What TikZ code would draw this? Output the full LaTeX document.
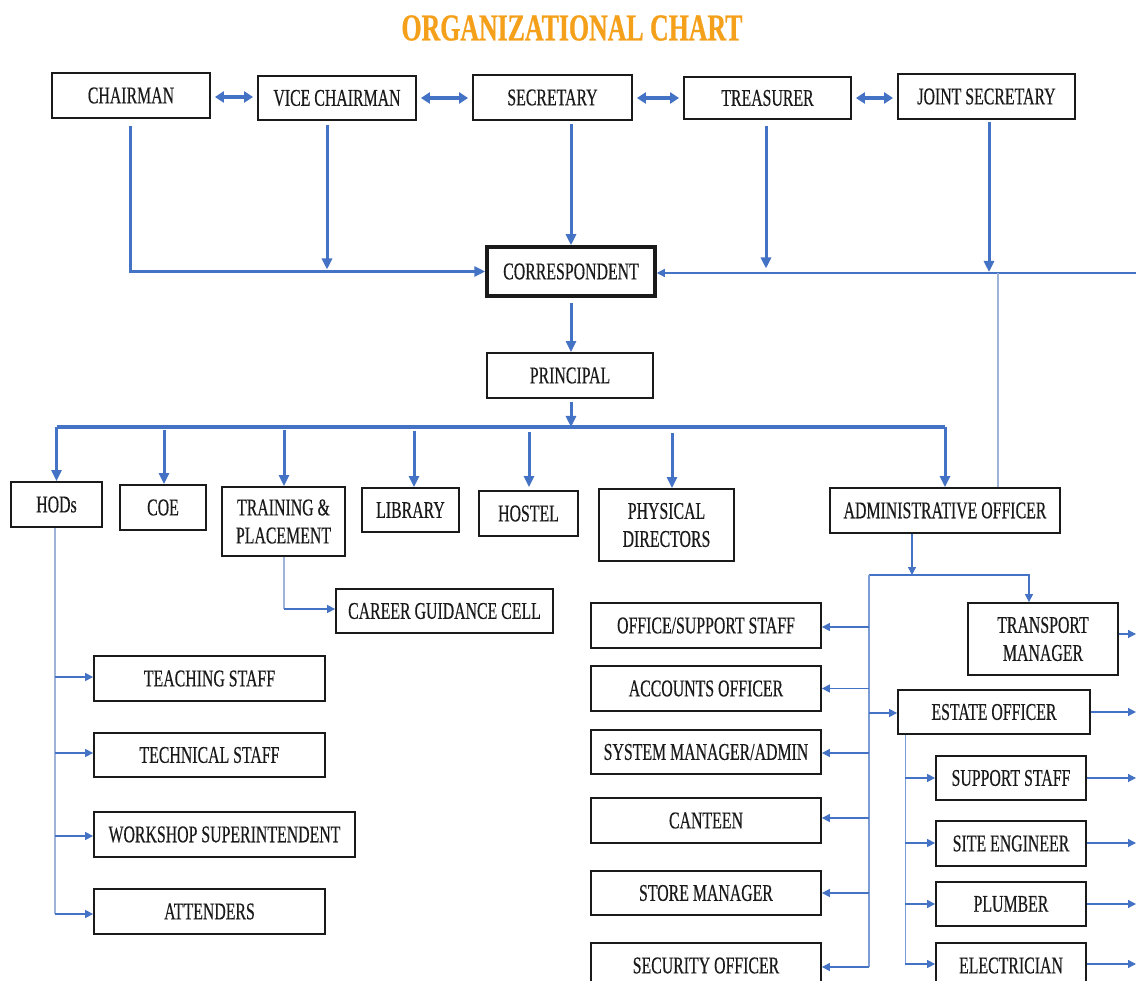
\documentclass[tikz,border=0pt]{standalone}
\usepackage{fontspec}
\setmainfont{Liberation Serif}[FakeStretch=0.66, FakeBold=0.35]
\newfontfamily\titlefont{Liberation Serif Bold}[FakeStretch=0.68, FakeBold=0.6]
\usetikzlibrary{arrows.meta,calc}
\definecolor{ob}{HTML}{4472C4}
\definecolor{lb}{HTML}{9FB3D9}
\definecolor{tor}{HTML}{F5A01A}
\definecolor{ink}{HTML}{1A1A1A}
\tikzset{
  box/.style={draw=ink, line width=1.8pt, fill=white, inner sep=0pt, align=center,
    text=ink, font=\fontsize{24}{28}\selectfont},
  tk/.style={draw=ob, line width=3pt, -{Triangle[length=11pt,width=10pt]}},
  busline/.style={draw=ob, line width=3.5pt},
  dbl/.style={draw=ob, line width=3.5pt, {Triangle[length=9pt,width=11pt]}-{Triangle[length=9pt,width=11pt]}},
  tn/.style={draw=ob, line width=1.2pt, -{Triangle[length=8pt,width=8pt]}},
  tnl/.style={draw=lb, line width=1.2pt},
  titlestyle/.style={inner sep=0pt, text=tor, font=\titlefont\fontsize{38}{40}\selectfont}
}
\newcommand{\mybox}[6]{\node[box, minimum width=#4pt, minimum height=#5pt] (#1) at (#2,#3) {#6};}
\begin{document}
\begin{tikzpicture}[x=1pt,y=-1pt]
\useasboundingbox (0,0) rectangle (1136,981);
\fill[white] (0,0) rectangle (1136,981);
\clip (0,0) rectangle (1136,981);

\node[titlestyle] (title) at (572,28) {ORGANIZATIONAL CHART};

% top row
\mybox{chair}{131}{95.5}{158}{45}{CHAIRMAN}
\mybox{vice}{337}{98}{158}{44}{VICE CHAIRMAN}
\mybox{sec}{552.5}{97.5}{159}{45}{SECRETARY}
\mybox{treas}{767.5}{98}{167}{42}{TREASURER}
\mybox{joint}{986.5}{96.5}{177}{45}{JOINT SECRETARY}

\node[box, line width=3.5pt, minimum width=168pt, minimum height=49pt] (corr) at (571,271.5) {CORRESPONDENT};
\mybox{prin}{570}{375.5}{166}{45}{PRINCIPAL}

% second level
\mybox{hods}{56.5}{504.5}{91}{45}{HODs}
\mybox{coe}{163}{507.5}{86}{45}{COE}
\mybox{train}{283.5}{521.5}{123}{69}{TRAINING \&\\PLACEMENT}
\mybox{lib}{410.5}{510}{97}{44}{LIBRARY}
\mybox{hostel}{528.5}{513.5}{99}{45}{HOSTEL}
\mybox{phys}{666.5}{525}{135}{72}{PHYSICAL\\DIRECTORS}
\mybox{admin}{945}{510.5}{230}{45}{ADMINISTRATIVE OFFICER}

\mybox{career}{444.5}{611}{217}{44}{CAREER GUIDANCE CELL}

% HODs children
\mybox{teach}{209.5}{678.5}{231}{45}{TEACHING STAFF}
\mybox{tech}{209.5}{755}{231}{44}{TECHNICAL STAFF}
\mybox{work}{224.5}{834.5}{261}{45}{WORKSHOP SUPERINTENDENT}
\mybox{attend}{209.5}{911.5}{231}{45}{ATTENDERS}

% admin children
\mybox{office}{706}{625.5}{230}{45}{OFFICE/SUPPORT STAFF}
\mybox{acc}{706}{688.5}{230}{45}{ACCOUNTS OFFICER}
\mybox{sysm}{706}{752}{230}{44}{SYSTEM MANAGER/ADMIN}
\mybox{cant}{706}{820.5}{230}{45}{CANTEEN}
\mybox{store}{706}{893}{230}{44}{STORE MANAGER}
\mybox{secu}{706}{965.5}{230}{45}{SECURITY OFFICER}

\mybox{trans}{1043}{639}{150}{72}{TRANSPORT\\MANAGER}
\mybox{estate}{994}{712}{192}{44}{ESTATE OFFICER}
\mybox{supp}{1011}{778}{150}{44}{SUPPORT STAFF}
\mybox{site}{1011}{843.5}{150}{45}{SITE ENGINEER}
\mybox{plumb}{1011}{904}{150}{44}{PLUMBER}
\mybox{elec}{1011}{965.5}{150}{45}{ELECTRICIAN}

% top double arrows
\draw[dbl] ($(chair.east)+(4,1.5)$) -- ($(vice.west |- chair.east)+(-4,1.5)$);
\draw[dbl] ($(vice.east)+(4,0)$) -- ($(sec.west |- vice.east)+(-4,0)$);
\draw[dbl] ($(sec.east)+(4,0.5)$) -- ($(treas.west |- sec.east)+(-4,0.5)$);
\draw[dbl] ($(treas.east)+(4,0)$) -- ($(joint.west |- treas.east)+(-4,0)$);

% into correspondent
\coordinate (c1) at ($(chair.south)+(-1,7)$);
\draw[tk] (c1) |- (corr.west);
\coordinate (v1) at ($(vice.south)+(-10,4)$);
\draw[tk] (v1) -- ($(v1 |- corr.west)+(0,-2)$);
\coordinate (s1) at ($(corr.north |- sec.south)+(0,3)$);
\draw[tk] (s1) -- (corr.north);
\coordinate (t1) at ($(treas.south)+(-1.5,6)$);
\draw[tk] (t1) -- ($(t1 |- corr.east)+(0,-3)$);
\coordinate (j1) at ($(joint.south)+(2.5,2)$);
\draw[tk] (j1) -- ($(j1 |- corr.east)+(0,0.5)$);

\coordinate (rE) at (1136,273);
\draw[tn] (rE) -- (corr.east |- rE);
\coordinate (a1) at ($(admin.north)+(53,0)$);
\draw[tnl] (a1) -- (a1 |- rE);

% correspondent to principal to bus
\draw[tk] ($(corr.south)+(0,5)$) -- (corr.south |- prin.north);
\coordinate (bus) at (0,427);
\draw[busline] (hods.north |- bus) -- (admin.north |- bus);
\draw[tk] ($(prin.south)+(1,3)$) -- ($(prin.south |- bus)+(1,0)$);

\draw[tk] (hods.north |- bus) -- (hods.north);
\draw[tk] ($(coe.north |- bus)+(1,3)$) -- ($(coe.north)+(1,0)$);
\draw[tk] ($(train.north |- bus)+(0.5,3)$) -- ($(train.north)+(0.5,0)$);
\draw[tk] ($(lib.north |- bus)+(3.5,4)$) -- ($(lib.north)+(3.5,0)$);
\draw[tk] ($(hostel.north |- bus)+(0.5,5)$) -- ($(hostel.north)+(0.5,-3)$);
\draw[tk] ($(phys.north |- bus)+(5.5,6)$) -- ($(phys.north)+(5.5,0)$);
\draw[tk] (admin.north |- bus) -- (admin.north);

% training -> career
\coordinate (tc) at ($(train.south |- career.west)+(0.5,-2)$);
\draw[tnl] ($(train.south)+(0.5,0)$) -- (tc);
\draw[tn] (tc) -- ($(career.west)+(0,-2)$);

% HODs trunk
\coordinate (h1) at ($(hods.south)+(-1.5,0)$);
\draw[tnl] (h1) -- ($(h1 |- attend.west)+(0,2.5)$);
\draw[tn] ($(h1 |- teach.west)+(0,-1.5)$) -- ($(teach.west)+(0,-1.5)$);
\draw[tn] ($(h1 |- tech.west)+(0,-2)$) -- ($(tech.west)+(0,-2)$);
\draw[tn] ($(h1 |- work.west)+(0,1.5)$) -- ($(work.west)+(0,1.5)$);
\draw[tn] ($(h1 |- attend.west)+(0,2.5)$) -- ($(attend.west)+(0,2.5)$);

% admin branch
\coordinate (ad1) at ($(admin.south)+(-33,0)$);
\coordinate (hbar) at (0,575);
\draw[tn] (ad1) -- (ad1 |- hbar);
\coordinate (tL) at ($(office.east |- hbar)+(47,0)$);
\coordinate (tr1) at ($(trans.north)+(-14,0)$);
\draw[tn] (tL) -| (tr1);
\draw[draw=ob!70, line width=1.2pt] (tL) -- ($(tL |- secu.east)+(0,1.5)$);
\draw[tn] ($(tL |- office.east)+(0,1.5)$) -- ($(office.east)+(0,1.5)$);
\draw[tn] (tL |- acc.east) -- (acc.east);
\draw[tn] ($(tL |- sysm.east)+(0,1)$) -- ($(sysm.east)+(0,1)$);
\draw[tn] ($(tL |- cant.east)+(0,-2.5)$) -- ($(cant.east)+(0,-2.5)$);
\draw[tn] (tL |- store.east) -- (store.east);
\draw[tn] ($(tL |- secu.east)+(0,1.5)$) -- ($(secu.east)+(0,1.5)$);
\draw[tn] ($(tL |- estate.west)+(0,1)$) -- ($(estate.west)+(0,1)$);

\coordinate (e1) at ($(estate.south west)+(8,0)$);
\draw[draw=ob!70, line width=1.2pt] (e1) -- ($(e1 |- elec.west)+(0,-1.5)$);
\draw[tn] (e1 |- supp.west) -- (supp.west);
\draw[tn] ($(e1 |- site.west)+(0,-0.5)$) -- ($(site.west)+(0,-0.5)$);
\draw[tn] (e1 |- plumb.west) -- (plumb.west);
\draw[tn] ($(e1 |- elec.west)+(0,-1.5)$) -- ($(elec.west)+(0,-1.5)$);

% right-hand outgoing arrows
\coordinate (rx) at (1136,0);
\draw[tn] ($(trans.east)+(0,-5)$) -- ($(trans.east -| rx)+(0,-5)$);
\draw[tn] (estate.east) -- (estate.east -| rx);
\draw[tn] (supp.east) -- (supp.east -| rx);
\draw[tn] ($(site.east)+(0,-0.5)$) -- ($(site.east -| rx)+(0,-0.5)$);
\draw[tn] (plumb.east) -- (plumb.east -| rx);
\draw[tn] ($(elec.east)+(0,-1.5)$) -- ($(elec.east -| rx)+(0,-1.5)$);
\end{tikzpicture}
\end{document}
